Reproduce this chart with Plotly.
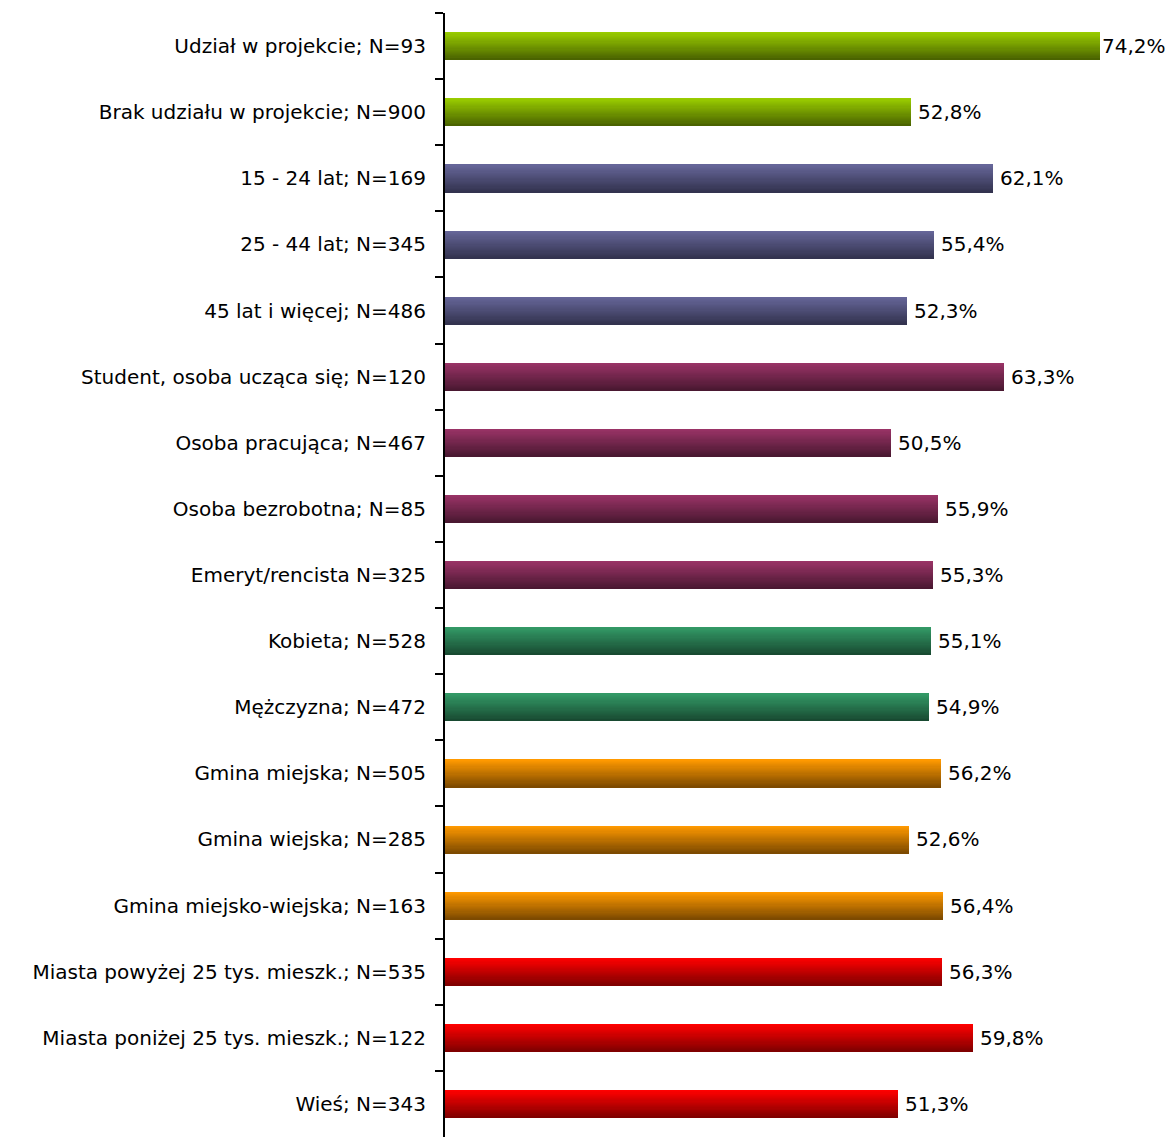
import plotly.graph_objects as go

categories = [
    "Udział w projekcie; N=93",
    "Brak udziału w projekcie; N=900",
    "15 - 24 lat; N=169",
    "25 - 44 lat; N=345",
    "45 lat i więcej; N=486",
    "Student, osoba ucząca się; N=120",
    "Osoba pracująca; N=467",
    "Osoba bezrobotna; N=85",
    "Emeryt/rencista N=325",
    "Kobieta; N=528",
    "Mężczyzna; N=472",
    "Gmina miejska; N=505",
    "Gmina wiejska; N=285",
    "Gmina miejsko-wiejska; N=163",
    "Miasta powyżej 25 tys. mieszk.; N=535",
    "Miasta poniżej 25 tys. mieszk.; N=122",
    "Wieś; N=343",
]
values = [74.2, 52.8, 62.1, 55.4, 52.3, 63.3, 50.5, 55.9, 55.3, 55.1, 54.9,
          56.2, 52.6, 56.4, 56.3, 59.8, 51.3]
groups = ["proj", "proj", "age", "age", "age", "stat", "stat", "stat", "stat",
          "sex", "sex", "gmina", "gmina", "gmina", "town", "town", "town"]

group_colors = {
    "proj": ((0x99, 0xCC, 0x00), (0x4A, 0x63, 0x00)),
    "age": ((0x66, 0x66, 0x99), (0x33, 0x33, 0x4F)),
    "stat": ((0x99, 0x33, 0x66), (0x4A, 0x18, 0x31)),
    "sex": ((0x33, 0x99, 0x66), (0x18, 0x4A, 0x31)),
    "gmina": ((0xFF, 0x99, 0x00), (0x7D, 0x4A, 0x00)),
    "town": ((0xFF, 0x00, 0x00), (0x80, 0x00, 0x00)),
}

FONT = "DejaVu Sans"
FS = 20
BAR_W = 0.42
N = 24


def mix(c1, c2, t):
    return "rgb(%d,%d,%d)" % tuple(round(a + (b - a) * t) for a, b in zip(c1, c2))


fig = go.Figure()
step = BAR_W / N
for i in range(N):
    t = i / (N - 1)
    start = -BAR_W / 2 + i * step
    w = min(step * 1.8, BAR_W / 2 - start)
    cols = [mix(group_colors[g][0], group_colors[g][1], t) for g in groups]
    fig.add_trace(go.Bar(
        x=values, y=categories, orientation="h",
        width=w, offset=start,
        marker=dict(color=cols, line=dict(width=0)),
        hoverinfo="skip", showlegend=False,
    ))

vmax = max(values)
for c, v in zip(categories, values):
    fig.add_annotation(
        x=v, y=c, text=f"{v:.1f}%".replace(".", ","),
        xanchor="left", yanchor="middle", showarrow=False,
        xshift=0 if v == vmax else 5,
        font=dict(family=FONT, size=FS, color="black"),
    )

fig.update_layout(
    width=1166, height=1137,
    margin=dict(l=445, r=15, t=13, b=0),
    paper_bgcolor="white", plot_bgcolor="white",
    barmode="overlay", bargap=0,
    font=dict(family=FONT, size=FS, color="black"),
)
fig.update_xaxes(range=[0, 80], visible=False, showgrid=False, zeroline=False)
fig.update_yaxes(
    type="category", categoryorder="array", categoryarray=categories,
    autorange="reversed", showline=True, linewidth=2, linecolor="black",
    ticks="outside", tickson="boundaries", ticklen=8, tickwidth=2,
    tickcolor="black", showgrid=False, ticklabelstandoff=13,
    tickfont=dict(family=FONT, size=FS, color="black"),
)

fig.write_html("out.html")
